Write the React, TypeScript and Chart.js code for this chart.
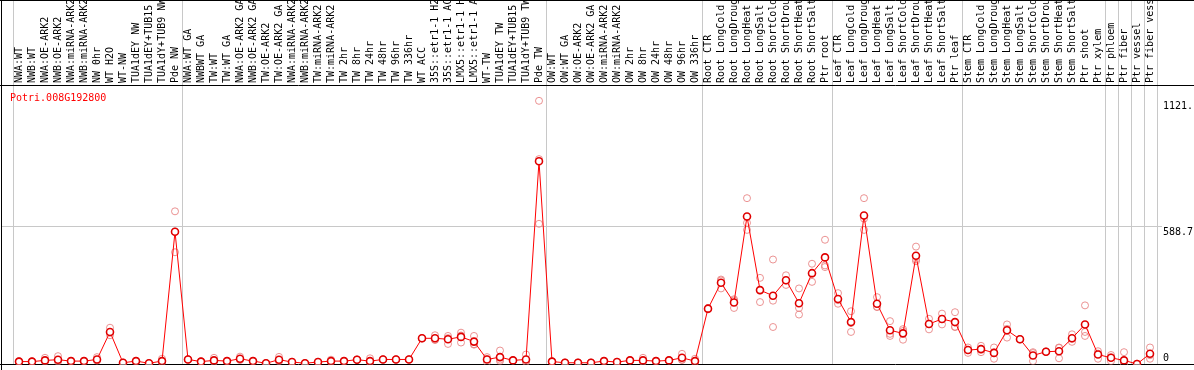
import React, { useEffect, useRef } from "react";
import { Chart, registerables } from "chart.js";

Chart.register(...registerables);

const geneName = "Potri.008G192800";

const categories = [
  "NWA:WT", "NWB:WT", "NWA:OE-ARK2", "NWB:OE-ARK2", "NWA:miRNA-ARK2", "NWB:miRNA-ARK2",
  "NW 0hr", "WT H2O", "WT-NW", "TUA1dEY NW", "TUA1dEY+TUB15 NW", "TUA1dY+TUB9 NW", "Pde NW",
  "NWA:WT GA", "NWBWT GA", "TW:WT", "TW:WT GA", "NWA:OE-ARK2 GA", "NWB:OE-ARK2 GA",
  "TW:OE-ARK2", "TW:OE-ARK2 GA", "NWA:miRNA-ARK2 GA", "NWB:miRNA-ARK2 GA", "TW:miRNA-ARK2",
  "TW:miRNA-ARK2 GA", "TW 2hr", "TW 8hr", "TW 24hr", "TW 48hr", "TW 96hr", "TW 336hr",
  "WT ACC", "35S::etr1-1 H2O", "35S::etr1-1 ACC", "LMX5::etr1-1 H2O", "LMX5::etr1-1 ACC",
  "WT-TW", "TUA1dEY TW", "TUA1dEY+TUB15 TW", "TUA1dY+TUB9 TW", "Pde TW",
  "OW:WT", "OW:WT GA", "OW:OE-ARK2", "OW:OE-ARK2 GA", "OW:miRNA-ARK2", "OW:miRNA-ARK2 GA",
  "OW 2hr", "OW 8hr", "OW 24hr", "OW 48hr", "OW 96hr", "OW 336hr",
  "Root CTR", "Root LongCold", "Root LongDrought", "Root LongHeat", "Root LongSalt",
  "Root ShortCold", "Root ShortDrought", "Root ShortHeat", "Root ShortSalt", "Ptr root",
  "Leaf CTR", "Leaf LongCold", "Leaf LongDrought", "Leaf LongHeat", "Leaf LongSalt",
  "Leaf ShortCold", "Leaf ShortDrought", "Leaf ShortHeat", "Leaf ShortSalt", "Ptr leaf",
  "Stem CTR", "Stem LongCold", "Stem LongDrought", "Stem LongHeat", "Stem LongSalt",
  "Stem ShortCold", "Stem ShortDrought", "Stem ShortHeat", "Stem ShortSalt", "Ptr shoot",
  "Ptr xylem", "Ptr phloem", "Ptr fiber", "Ptr vessel", "Ptr fiber vessel",
];

const meanValues = [
  12, 12, 17, 20, 14, 14, 21, 138, 7, 14, 5, 14, 564,
  21, 12, 17, 14, 24, 14, 5, 20, 10, 5, 10, 14, 14, 20, 14, 21, 21, 21,
  111, 111, 107, 117, 97, 21, 31, 17, 21, 864,
  12, 7, 7, 7, 14, 10, 17, 17, 14, 17, 28, 14,
  237, 347, 263, 629, 316, 292, 358, 260, 388, 455,
  278, 180, 633, 258, 145, 132, 462, 172, 193, 180,
  61, 65, 49, 145, 107, 38, 54, 56, 111, 170,
  42, 28, 17, 2, 45,
];

const replicate1 = [
  12, 12, 28, 35, 14, 14, 31, 156, 7, 14, 5, 24, 651,
  21, 12, 28, 14, 33, 14, 5, 32, 10, 5, 10, 20, 14, 20, 26, 21, 21, 21,
  111, 124, 121, 135, 121, 31, 59, 17, 42, 1121,
  12, 7, 7, 7, 14, 10, 17, 28, 14, 17, 45, 24,
  237, 361, 277, 707, 368, 446, 379, 323, 428, 530,
  303, 226, 707, 286, 184, 142, 501, 194, 216, 222,
  72, 79, 72, 170, 107, 52, 54, 72, 128, 251,
  56, 40, 52, 2, 72,
];

const replicate2 = [
  10, 11, 12, 14, 13, 13, 16, 124, 6, 13, 4, 10, 477,
  20, 11, 12, 13, 20, 13, 4, 15, 9, 4, 9, 12, 13, 19, 10, 20, 20, 20,
  110, 105, 87, 93, 84, 10, 14, 16, 12, 598,
  11, 6, 6, 6, 13, 9, 16, 12, 13, 16, 20, 10,
  240, 323, 240, 602, 265, 271, 338, 240, 351, 414,
  258, 138, 572, 244, 121, 105, 439, 149, 193, 159,
  49, 52, 24, 114, 106, 14, 53, 26, 96, 138,
  24, 14, 3, 1, 24,
];

const replicate3 = [
  14, 13, 14, 12, 15, 15, 17, 135, 8, 15, 6, 8, 565,
  22, 13, 11, 15, 19, 15, 6, 13, 11, 6, 11, 10, 15, 21, 8, 22, 22, 22,
  112, 104, 112, 123, 86, 22, 20, 18, 10, 873,
  13, 8, 8, 8, 15, 11, 18, 11, 15, 18, 19, 8,
  234, 357, 272, 572, 315, 159, 357, 212, 385, 421,
  273, 176, 620, 245, 130, 150, 446, 173, 170, 160,
  62, 64, 51, 151, 108, 48, 55, 70, 109, 121,
  46, 30, 0, 3, 39,
];

// indices where a group separator sits just before the category
const groupStarts = [0, 13, 41, 53, 63, 73, 84, 85, 86, 87, 88];
const yTickValues = [0, 588.7, 1121];
const yTickLabels = ["0", "588.7", "1121."];
const yMax = 1184;

const FONT = '10px "DejaVu Sans Mono", "Liberation Mono", monospace';
const GRID = "#c8c8c8";

const decorPlugin = {
  id: "decor",
  beforeDatasetsDraw(chart: any) {
    const { ctx, scales, width, chartArea } = chart;
    const xs = scales.x;
    const ys = scales.y;
    const step = xs.getPixelForValue(1) - xs.getPixelForValue(0);
    ctx.save();
    ctx.lineWidth = 1;
    // horizontal grid at 588.7
    ctx.strokeStyle = GRID;
    const yg = Math.round(ys.getPixelForValue(yTickValues[1])) + 0.5;
    ctx.beginPath();
    ctx.moveTo(2, yg);
    ctx.lineTo(1162, yg);
    ctx.stroke();
    // vertical separators
    for (const g of groupStarts) {
      const px = Math.round(xs.getPixelForValue(0) + (g - 0.5) * step) + 0.5;
      ctx.beginPath();
      ctx.moveTo(px, 0);
      ctx.lineTo(px, chartArea.bottom);
      ctx.stroke();
    }
    // frame lines
    ctx.strokeStyle = "#000";
    const y0 = Math.round(ys.getPixelForValue(0)) + 0.5;
    ctx.beginPath();
    ctx.moveTo(0, y0);
    ctx.lineTo(width, y0);
    ctx.moveTo(0, 0.5);
    ctx.lineTo(width, 0.5);
    ctx.moveTo(0, 85.5);
    ctx.lineTo(width, 85.5);
    ctx.moveTo(1.5, 0);
    ctx.lineTo(1.5, 370);
    ctx.stroke();
    ctx.restore();
  },
  afterDatasetsDraw(chart: any) {
    const { ctx, scales } = chart;
    const xs = scales.x;
    const ys = scales.y;
    ctx.save();
    ctx.font = FONT;
    ctx.fillStyle = "#000";
    // header labels (rotated)
    ctx.save();
    ctx.beginPath();
    ctx.rect(2, 1, 1192, 84);
    ctx.clip();
    ctx.textAlign = "left";
    ctx.textBaseline = "middle";
    categories.forEach((lab, i) => {
      const px = xs.getPixelForValue(i);
      ctx.save();
      ctx.translate(px, 83);
      ctx.rotate(-Math.PI / 2);
      ctx.fillText(lab, 0, 0);
      ctx.restore();
    });
    ctx.restore();
    // gene name
    ctx.fillStyle = "#ff0000";
    ctx.textAlign = "left";
    ctx.textBaseline = "alphabetic";
    ctx.fillText(geneName, 10, 101);
    // y-axis labels
    ctx.fillStyle = "#000";
    yTickValues.forEach((v, i) => {
      const py = ys.getPixelForValue(v);
      if (v === 0) {
        ctx.textBaseline = "bottom";
        ctx.fillText(yTickLabels[i], 1163, py - 1);
      } else {
        ctx.textBaseline = "top";
        ctx.fillText(yTickLabels[i], 1163, py + 1);
      }
    });
    ctx.restore();
  },
};

const repStyle = {
  showLine: false,
  pointRadius: 3.5,
  pointBorderWidth: 1,
  pointBorderColor: "rgba(232,128,128,0.85)",
  pointBackgroundColor: "rgba(0,0,0,0)",
  order: 1,
};

export default function App() {
  const ref = useRef<HTMLCanvasElement | null>(null);
  useEffect(() => {
    document.body.style.margin = "0";
    if (!ref.current) return;
    const chart = new Chart(ref.current, {
      type: "line",
      data: {
        labels: categories,
        datasets: [
          {
            label: "mean",
            data: meanValues,
            borderColor: "#ff0000",
            borderWidth: 1,
            pointRadius: 3.5,
            pointBorderWidth: 1.6,
            pointBorderColor: "#e00000",
            pointBackgroundColor: "#ffffff",
            order: 0,
          },
          { label: "rep1", data: replicate1, ...repStyle },
          { label: "rep2", data: replicate2, ...repStyle },
          { label: "rep3", data: replicate3, ...repStyle },
        ],
      },
      options: {
        animation: false,
        responsive: false,
        events: [],
        layout: { padding: { left: 12.5, right: 37.5, top: 86, bottom: 1 } },
        plugins: { legend: { display: false }, tooltip: { enabled: false } },
        scales: {
          x: { type: "category", offset: true, display: false },
          y: { min: 0, max: yMax, display: false },
        },
      },
      plugins: [decorPlugin],
    });
    return () => chart.destroy();
  }, []);
  return (
    <div style={{ position: "fixed", left: 0, top: 0, width: 1194, height: 370, background: "#fff" }}>
      <canvas ref={ref} width={1194} height={370} style={{ display: "block" }} />
    </div>
  );
}
